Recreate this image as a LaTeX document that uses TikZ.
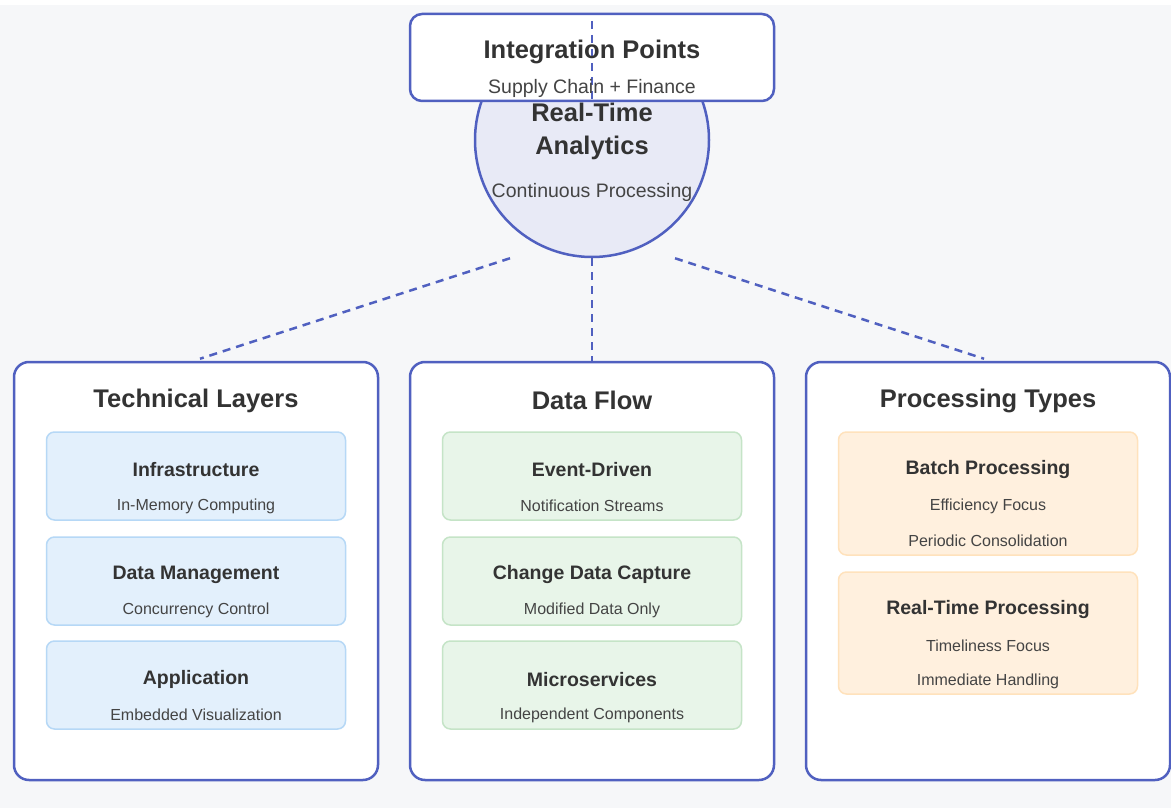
\documentclass[tikz,border=0pt]{standalone}
\usepackage{fontspec}
\setmainfont{Liberation Sans}
\usetikzlibrary{calc}
\definecolor{bg}{HTML}{F6F7F9}
\definecolor{edge}{HTML}{5060C0}
\definecolor{circfill}{HTML}{E8EAF6}
\definecolor{txt}{HTML}{333333}
\definecolor{subtxt}{HTML}{444444}
\definecolor{bluefill}{HTML}{E3F0FC}
\definecolor{bluedraw}{HTML}{B6D8F6}
\definecolor{greenfill}{HTML}{E8F5E9}
\definecolor{greendraw}{HTML}{C5E4C7}
\definecolor{orangefill}{HTML}{FFF0DE}
\definecolor{orangedraw}{HTML}{FFE2BC}
\tikzset{
  panel/.style={draw=edge, line width=2.5pt, fill=white, rounded corners=15pt, minimum width=364pt, minimum height=418pt, inner sep=0pt},
  item/.style={rounded corners=8pt, line width=1.5pt, minimum width=299pt, inner sep=0pt},
  bluebox/.style={item, fill=bluefill, draw=bluedraw, minimum height=88pt},
  greenbox/.style={item, fill=greenfill, draw=greendraw, minimum height=88pt},
  orangebox/.style={item, fill=orangefill, draw=orangedraw, minimum height=123pt},
  conn/.style={draw=edge, line width=2.5pt, dash pattern=on 8pt off 6pt},
  bigtitle/.style={font=\fontsize{25.5}{30}\selectfont\bfseries, text=txt, inner sep=0pt, yshift=-2.5pt},
  subtitle/.style={font=\fontsize{19.5}{23}\selectfont, text=subtxt, inner sep=0pt, yshift=-2pt},
  itemtitle/.style={font=\fontsize{19.5}{23}\selectfont\bfseries, text=txt, inner sep=0pt, yshift=-1.5pt},
  itemsub/.style={font=\fontsize{16}{19}\selectfont, text=subtxt, inner sep=0pt, yshift=-2pt}
}
\begin{document}
\begin{tikzpicture}[x=1pt,y=-1pt]
\useasboundingbox (0,0) rectangle (1171,808);
\fill[bg] (0,0) rectangle (1171,808);
\fill[white] (0,0) rectangle (1171,5);

% panels
\node[panel] (tl) at (196,571) {};
\node[panel] (df) at (592,571) {};
\node[panel] (pt) at (988,571) {};

% central circle
\node[circle, draw=edge, line width=2.5pt, fill=circfill, minimum size=234pt, inner sep=0pt] (rt) at (592,140) {};

% connectors
\coordinate (lstart) at ($(rt.south)+(-82,0)$);
\coordinate (rstart) at ($(rt.south)+(83,0)$);
\coordinate (lend) at ($(tl.north)+(4,-2)$);
\coordinate (rend) at ($(pt.north)+(-4,-2)$);
\draw[conn] (lstart) -- (lend);
\draw[conn] (rt.south) -- (df.north);
\draw[conn] (rstart) -- (rend);

% circle text
\node[bigtitle] (rt1) at (592,110) {Real-Time};
\node[bigtitle] (rt2) at (592,145) {Analytics};
\node[subtitle] (rt3) at (592,190) {Continuous Processing};

% integration box
\node[draw=edge, line width=2.5pt, fill=white, rounded corners=12pt, minimum width=364pt, minimum height=87pt, inner sep=0pt] (ip) at (592,57.5) {};
\coordinate (iptop) at (592,21);
\coordinate (ipbot) at (592,101);
\draw[conn] (iptop) -- (ipbot);
\node[bigtitle] (ipt) at (592,49) {Integration Points};
\node[subtitle] (ips) at (592,86) {Supply Chain + Finance};

% panel titles
\node[bigtitle] at (196,398) {Technical Layers};
\node[bigtitle] at (592,398) {Data Flow};
\node[bigtitle] at (988,398) {Processing Types};

% technical layers
\node[bluebox] (b1) at (196,476) {};
\node[bluebox] (b2) at (196,581) {};
\node[bluebox] (b3) at (196,685) {};
\node[itemtitle] at ($(b1.north)+(0,37)$) {Infrastructure};
\node[itemsub] at ($(b1.north)+(0,73)$) {In-Memory Computing};
\node[itemtitle] at ($(b2.north)+(0,37)$) {Data Management};
\node[itemsub] at ($(b2.north)+(0,72)$) {Concurrency Control};
\node[itemtitle] at ($(b3.north)+(0,38)$) {Application};
\node[itemsub] at ($(b3.north)+(0,73)$) {Embedded Visualization};

% data flow
\node[greenbox] (g1) at (592,476) {};
\node[greenbox] (g2) at (592,581) {};
\node[greenbox] (g3) at (592,685) {};
\node[itemtitle] at ($(g1.north)+(0,37)$) {Event-Driven};
\node[itemsub] at ($(g1.north)+(0,73)$) {Notification Streams};
\node[itemtitle] at ($(g2.north)+(0,37)$) {Change Data Capture};
\node[itemsub] at ($(g2.north)+(0,72)$) {Modified Data Only};
\node[itemtitle] at ($(g3.north)+(0,38)$) {Microservices};
\node[itemsub] at ($(g3.north)+(0,73)$) {Independent Components};

% processing types
\node[orangebox] (o1) at (988,493.5) {};
\node[orangebox, minimum height=122pt] (o2) at (988,633) {};
\node[itemtitle] at ($(o1.north)+(0,37)$) {Batch Processing};
\node[itemsub] at ($(o1.north)+(0,73)$) {Efficiency Focus};
\node[itemsub] at ($(o1.north)+(0,108)$) {Periodic Consolidation};
\node[itemtitle] at ($(o2.north)+(0,37)$) {Real-Time Processing};
\node[itemsub] at ($(o2.north)+(0,73)$) {Timeliness Focus};
\node[itemsub] at ($(o2.north)+(0,108)$) {Immediate Handling};
\end{tikzpicture}
\end{document}
